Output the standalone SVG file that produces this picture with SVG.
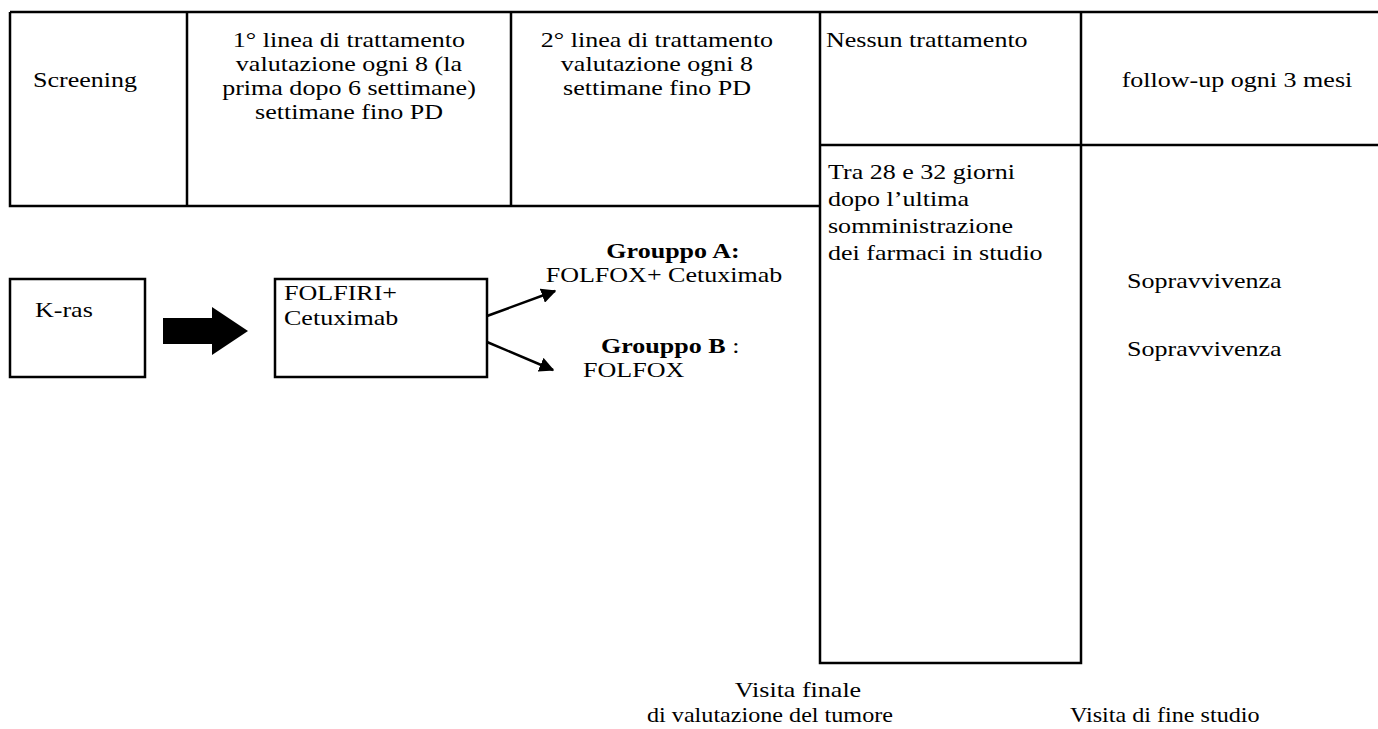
<svg xmlns="http://www.w3.org/2000/svg" width="1378" height="729" viewBox="0 0 1378 729">
<defs>
<style>
text{font-family:"Liberation Serif","Times New Roman",serif;font-size:21px;fill:#000;transform-box:fill-box;transform-origin:0 0;transform:scaleX(1.24)}
text.c{text-anchor:middle;transform-origin:50% 0}
text.n{transform:scaleX(1.15)}
.b{font-weight:bold}
.ln{stroke:#000;stroke-width:2.5;fill:none}
.box{stroke:#000;stroke-width:2.5;fill:#fff}
.conn{stroke:#000;stroke-width:2.5;fill:none}
</style>
<marker id="ah" viewBox="0 0 10 10" refX="9" refY="5" markerWidth="6" markerHeight="6" markerUnits="strokeWidth" orient="auto"><path d="M0,0 L10,5 L0,10 z" fill="#000"/></marker>
</defs>
<g id="table">
<path class="ln" d="M10,12 H1378 M10,12 V206 H820 M187,12 V206 M511,12 V206 M820,12 V663 H1081 V12 M820,145 H1378"/>
</g>
<g id="screening"><text x="33" y="87">Screening</text></g>
<g id="linea1"><text class="c" x="349" y="47">1° linea di trattamento</text><text class="c" x="349" y="71">valutazione ogni 8 (la</text><text class="c" x="349" y="95">prima dopo 6 settimane)</text><text class="c" x="349" y="119">settimane fino PD</text></g>
<g id="linea2"><text class="c" x="657" y="47">2° linea di trattamento</text><text class="c" x="657" y="71">valutazione ogni 8</text><text class="c" x="657" y="95">settimane fino PD</text></g>
<g id="nessun"><text x="826" y="47">Nessun trattamento</text></g>
<g id="followup"><text class="c" x="1237" y="87">follow-up ogni 3 mesi</text></g>
<g id="tra"><text x="828" y="179">Tra 28 e 32 giorni</text><text x="828" y="206">dopo l’ultima</text><text x="828" y="233">somministrazione</text><text x="828" y="260">dei farmaci in studio</text></g>
<g id="sopr1"><text x="1127" y="288">Sopravvivenza</text></g>
<g id="sopr2"><text x="1127" y="356">Sopravvivenza</text></g>
<g id="kras"><rect class="box" x="10" y="279" width="135" height="98"/><text x="35" y="317">K-ras</text></g>
<g id="folfiri"><rect class="box" x="275" y="279" width="212" height="98"/><text x="284" y="300">FOLFIRI+</text><text x="284" y="325">Cetuximab</text></g>
<g id="grA"><text class="c b" x="673" y="258">Grouppo A:</text><text class="c" x="664" y="282">FOLFOX+ Cetuximab</text></g>
<g id="grB"><text x="601" y="353"><tspan class="b">Grouppo B</tspan> :</text><text x="583" y="377">FOLFOX</text></g>
<g id="visitaFinale"><text class="c" x="798" y="697">Visita finale</text><text class="c n" x="770" y="722">di valutazione del tumore</text></g>
<g id="visitaFine"><text class="n" x="1070" y="722">Visita di fine studio</text></g>
<g id="connectors">
<path d="M163,318 H212 V307 L248,331 L212,355 V344 H163 z" fill="#000"/>
<line class="conn" x1="487" y1="316" x2="555" y2="291" marker-end="url(#ah)"/>
<line class="conn" x1="487" y1="342" x2="553" y2="370" marker-end="url(#ah)"/>
</g>
</svg>
